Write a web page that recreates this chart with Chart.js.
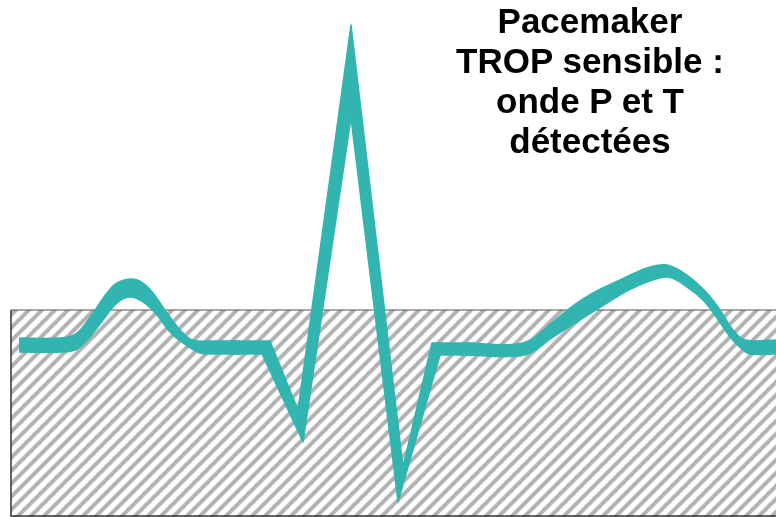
<!DOCTYPE html>
<html lang="fr">
<head>
<meta charset="utf-8">
<title>Pacemaker TROP sensible</title>
<script src="https://cdn.jsdelivr.net/npm/chart.js@4.4.1/dist/chart.umd.min.js"></script>
<style>
  html, body { margin: 0; padding: 0; background: #fff; }
  #wrap { position: relative; width: 776px; height: 517px; overflow: hidden; }
  #ecg { display: block; }
  #title {
    position: absolute; left: 390px; top: 1px; width: 400px;
    text-align: center; color: #000;
    font: bold 35px/40px "Liberation Sans", Arial, sans-serif;
  }
</style>
</head>
<body>
<div id="wrap">
  <canvas id="ecg" width="776" height="517"></canvas>
  <div id="title">Pacemaker<br>TROP sensible :<br>onde P et T<br>détectées</div>
</div>
<script>
// ECG trace: x in px, amplitude in px above the baseline.
// The brush stroke is the band between an upper and a lower edge.
// P wave
const pUpperX = [19, 60, 77, 93, 107, 117, 132, 143, 153, 167, 180, 192, 210, 240];
const pUpperY = [8, 8, 13, 33, 53, 63, 67, 63, 53, 33, 16, 6, 5, 5];
const pLowerX = [19, 63, 77, 90, 103, 117, 130, 143, 157, 170, 183, 200, 217, 240];
const pLowerY = [-6, -6, -3, 9, 26, 43, 49, 44, 31, 14, 3, -7, -8, -8];

// QRS complex (straight strokes)
const qrsUpperX = [230, 270, 298, 351, 403, 432, 475];
const qrsUpperY = [5, 5, -64, 321, -121, 3, 3];
const qrsLowerX = [230, 262, 303, 351, 398, 440, 475];
const qrsLowerY = [-8, -8, -96, 228, -156, -9, -9];

// T wave
const tUpperX = [465, 523, 553, 570, 593, 620, 647, 667, 687, 707, 720, 733, 745, 776];
const tUpperY = [3, 3, 24, 38, 53, 66, 78, 81, 71, 53, 36, 16, 6, 6];
const tLowerX = [465, 525, 553, 580, 607, 633, 667, 687, 703, 717, 730, 743, 750, 776];
const tLowerY = [-9, -9, 9, 26, 43, 58, 69, 59, 46, 28, 9, -4, -8, -8];

// hatched zone under the trace
const zoneLeft = 11;
const zoneRight = 776;
const zoneTop = 36;
const zoneBottom = -170;

const X_MIN = 0, X_MAX = 776;
const Y_MIN = -171, Y_MAX = 346;

const TEAL = "rgb(50,181,177)";

function zip(xs, ys) {
  return xs.map((x, i) => ({ x, y: ys[i] }));
}

function band(upX, upY, loX, loY, tension) {
  const common = {
    borderColor: TEAL,
    borderWidth: 1.5,
    borderJoinStyle: "round",
    pointRadius: 0,
    tension: tension,
    order: 0,
  };
  return [
    { ...common, data: zip(upX, upY), backgroundColor: TEAL, fill: "+1" },
    { ...common, data: zip(loX, loY), fill: false },
  ];
}

function makeHatch() {
  const size = 13;
  const c = document.createElement("canvas");
  c.width = size;
  c.height = size;
  const g = c.getContext("2d");
  const img = g.createImageData(size, size);
  for (let y = 0; y < size; y++) {
    for (let x = 0; x < size; x++) {
      const t = ((x + y) % size) / size;
      let v = 0.5 + 0.5 * Math.cos(2 * Math.PI * t);
      v = Math.min(1, Math.max(0, (v - 0.35) / 0.5));
      const grey = Math.round(255 - 78 * v);
      const i = (y * size + x) * 4;
      img.data[i] = img.data[i + 1] = img.data[i + 2] = grey;
      img.data[i + 3] = 255;
    }
  }
  g.putImageData(img, 0, 0);
  return g.createPattern(c, "repeat");
}

const ctx = document.getElementById("ecg").getContext("2d");
new Chart(ctx, {
  type: "line",
  data: {
    datasets: [
      ...band(pUpperX, pUpperY, pLowerX, pLowerY, 0.35),
      ...band(qrsUpperX, qrsUpperY, qrsLowerX, qrsLowerY, 0),
      ...band(tUpperX, tUpperY, tLowerX, tLowerY, 0.35),
      {
        data: [{ x: zoneLeft, y: zoneTop }, { x: zoneLeft, y: zoneBottom }, { x: zoneRight, y: zoneBottom }],
        borderColor: "#333",
        borderWidth: 1.5,
        fill: false,
        pointRadius: 0,
        order: 1,
      },
      {
        data: [{ x: zoneLeft, y: zoneTop }, { x: zoneRight, y: zoneTop }],
        borderColor: "#555",
        borderWidth: 1.2,
        backgroundColor: makeHatch(),
        fill: "start",
        pointRadius: 0,
        order: 2,
      },
    ],
  },
  options: {
    responsive: false,
    animation: false,
    events: [],
    layout: { padding: 0 },
    scales: {
      x: { type: "linear", display: false, min: X_MIN, max: X_MAX },
      y: { type: "linear", display: false, min: Y_MIN, max: Y_MAX },
    },
    plugins: { legend: { display: false }, tooltip: { enabled: false } },
  },
});
</script>
</body>
</html>
